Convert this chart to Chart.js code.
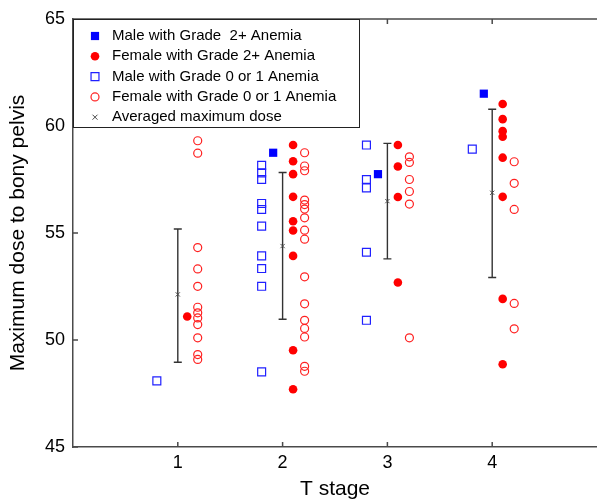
<!DOCTYPE html>
<html>
<head>
<meta charset="utf-8">
<script src="https://cdn.jsdelivr.net/npm/chart.js@4"></script>
<style>
  html, body { margin: 0; padding: 0; background: #fff; }
</style>
</head>
<body>
<canvas id="chart" width="597" height="500"></canvas>
<script>
// patients per group, [T stage position, max dose]
const maleSevere = [[1.91, 58.75], [2.91, 57.75], [3.92, 61.51]]

const femaleSevere = [
  [1.09, 51.10],
  [2.10, 59.11], [2.10, 58.35], [2.10, 57.75], [2.10, 56.69], [2.10, 55.55],
  [2.10, 55.12], [2.10, 53.93], [2.10, 49.52], [2.10, 47.70],
  [3.10, 59.11], [3.10, 58.11], [3.10, 56.68], [3.10, 52.69],
  [4.10, 61.03], [4.10, 60.32], [4.10, 59.76], [4.10, 59.50], [4.10, 58.52],
  [4.10, 56.69], [4.10, 51.92], [4.10, 48.87]
]

const maleMild = [
  [0.80, 48.09],
  [1.80, 58.16], [1.80, 57.81], [1.80, 57.50], [1.80, 56.38], [1.80, 56.10],
  [1.80, 55.32], [1.80, 53.93], [1.80, 53.34], [1.80, 52.51], [1.80, 48.51],
  [2.80, 59.11], [2.80, 57.50], [2.80, 57.11], [2.80, 54.10], [2.80, 50.92],
  [3.81, 58.92]
]

const femaleMild = [
  [1.19, 59.31], [1.19, 58.73], [1.19, 54.32], [1.19, 53.32], [1.19, 52.51],
  [1.19, 51.53], [1.19, 51.27], [1.19, 51.03], [1.19, 50.72], [1.19, 50.10],
  [1.19, 49.32], [1.19, 49.09],
  [2.21, 58.75], [2.21, 58.13], [2.21, 57.91], [2.21, 56.54], [2.21, 56.33],
  [2.21, 56.12], [2.21, 55.71], [2.21, 55.13], [2.21, 54.71], [2.21, 52.95],
  [2.21, 51.69], [2.21, 50.92], [2.21, 50.54], [2.21, 50.14], [2.21, 48.77],
  [2.21, 48.54],
  [3.21, 58.56], [3.21, 58.30], [3.21, 57.50], [3.21, 56.94], [3.21, 56.35],
  [3.21, 50.10],
  [4.21, 58.33], [4.21, 57.32], [4.21, 56.10], [4.21, 51.71], [4.21, 50.52]
]

// average and spread per T stage
const stages = [1, 2, 3, 4]
const meanDose = [52.13, 54.39, 56.49, 56.88]
const doseLow = [48.96, 50.97, 53.79, 52.92]
const doseHigh = [55.19, 57.83, 59.19, 60.78]

const stageTicks = [1, 2, 3, 4]
const doseTicks = [45, 50, 55, 60, 65]

const BLUE = '#0000ff'
const RED = '#ff0000'
const AXIS = '#4a4a4a'
const FONT = '"Liberation Sans", Arial, sans-serif'

toPoints = list => list.map(p => ({ x: p[0], y: p[1] }))

const datasets = [
  {
    label: 'Male with Grade  2+ Anemia',
    data: toPoints(maleSevere),
    pointStyle: 'rect', pointRadius: 5.8,
    backgroundColor: BLUE, borderColor: BLUE, borderWidth: 0
  },
  {
    label: 'Female with Grade 2+ Anemia',
    data: toPoints(femaleSevere),
    pointStyle: 'circle', pointRadius: 4.3,
    backgroundColor: RED, borderColor: RED, borderWidth: 0
  },
  {
    label: 'Male with Grade 0 or 1 Anemia',
    data: toPoints(maleMild),
    pointStyle: 'rect', pointRadius: 5.6,
    backgroundColor: 'rgba(0,0,0,0)', borderColor: '#2020ff', borderWidth: 1.2
  },
  {
    label: 'Female with Grade 0 or 1 Anemia',
    data: toPoints(femaleMild),
    pointStyle: 'circle', pointRadius: 4,
    backgroundColor: 'rgba(0,0,0,0)', borderColor: '#ff2020', borderWidth: 1.2
  },
  {
    label: 'Averaged maximum dose',
    data: stages.map((s, i) => ({ x: s, y: meanDose[i] })),
    pointStyle: 'crossRot', pointRadius: 3,
    backgroundColor: AXIS, borderColor: AXIS, borderWidth: 1
  }
]

// vertical bars from doseLow to doseHigh with caps
const errorBars = {
  id: 'errorBars',
  beforeDatasetsDraw(chart) {
    const ctx = chart.ctx
    const xs = chart.scales.x, ys = chart.scales.y
    ctx.save()
    ctx.strokeStyle = '#333'
    ctx.lineWidth = 1.4
    stages.forEach((s, i) => {
      const x = xs.getPixelForValue(s)
      const y1 = ys.getPixelForValue(doseLow[i])
      const y2 = ys.getPixelForValue(doseHigh[i])
      ctx.beginPath()
      ctx.moveTo(x, y1); ctx.lineTo(x, y2)
      ctx.moveTo(x - 4, y1); ctx.lineTo(x + 4, y1)
      ctx.moveTo(x - 4, y2); ctx.lineTo(x + 4, y2)
      ctx.stroke()
    })
    ctx.restore()
  }
}

function drawMarker(ctx, ds, x, y) {
  ctx.save()
  ctx.fillStyle = ds.backgroundColor
  ctx.strokeStyle = ds.borderColor
  ctx.lineWidth = ds.borderWidth || 1
  const r = ds.pointRadius
  ctx.beginPath()
  if (ds.pointStyle === 'rect') {
    const h = Math.SQRT1_2 * r
    ctx.rect(x - h, y - h, 2 * h, 2 * h)
  } else if (ds.pointStyle === 'circle') {
    ctx.arc(x, y, r, 0, Math.PI * 2)
  } else {
    ctx.moveTo(x - r, y - r); ctx.lineTo(x + r, y + r)
    ctx.moveTo(x - r, y + r); ctx.lineTo(x + r, y - r)
  }
  ctx.fill()
  if (ds.borderWidth) ctx.stroke()
  ctx.restore()
}

// top border, inward ticks and the boxed legend
const frame = {
  id: 'frame',
  afterDraw(chart) {
    const ctx = chart.ctx
    const area = chart.chartArea
    const xs = chart.scales.x, ys = chart.scales.y
    ctx.save()
    ctx.strokeStyle = AXIS
    ctx.lineWidth = 1.5
    ctx.beginPath()
    ctx.moveTo(area.left, area.top); ctx.lineTo(area.right, area.top)
    stageTicks.forEach(t => {
      const x = xs.getPixelForValue(t)
      ctx.moveTo(x, area.bottom); ctx.lineTo(x, area.bottom - 5)
      ctx.moveTo(x, area.top); ctx.lineTo(x, area.top + 5)
    })
    doseTicks.forEach(t => {
      const y = ys.getPixelForValue(t)
      ctx.moveTo(area.left, y); ctx.lineTo(area.left + 5, y)
    })
    ctx.stroke()

    const box = { left: area.left, top: area.top, right: 359, bottom: 127 }
    ctx.fillStyle = '#fff'
    ctx.fillRect(box.left, box.top, box.right - box.left, box.bottom - box.top)
    ctx.strokeStyle = '#222'
    ctx.lineWidth = 1
    ctx.strokeRect(box.left + 0.5, box.top + 0.5, box.right - box.left, box.bottom - box.top)

    ctx.font = '15px ' + FONT
    ctx.textBaseline = 'middle'
    ctx.textAlign = 'left'
    chart.data.datasets.forEach((ds, i) => {
      const y = 36 + i * 20.3
      const legendDs = Object.assign({}, ds)
      if (ds.pointStyle === 'crossRot') legendDs.pointRadius = 2.5
      drawMarker(ctx, legendDs, 95, y)
      ctx.fillStyle = '#000'
      ctx.fillText(ds.label, 112, y)
    })
    ctx.restore()
  }
}

const chart = new Chart(document.getElementById('chart'), {
  type: 'scatter',
  data: { datasets: datasets },
  options: {
    responsive: false,
    animation: false,
    layout: { autoPadding: false, padding: { top: 19, right: 0, bottom: 0, left: 0 } },
    plugins: { legend: { display: false }, tooltip: { enabled: false } },
    scales: {
      x: {
        type: 'linear', min: 0, max: 5,
        afterFit: scale => { scale.height = 53; scale.paddingRight = 0 },
        afterBuildTicks: scale => { scale.ticks = stageTicks.map(v => ({ value: v })) },
        ticks: {
          color: '#000', font: { family: FONT, size: 18 }, padding: 5
        },
        grid: { display: false, drawTicks: false },
        border: { display: true, color: AXIS, width: 1.5 },
        title: {
          display: true, text: 'T stage', color: '#000',
          font: { family: FONT, size: 21, lineHeight: 1 }, padding: { top: 0, bottom: 0 }
        }
      },
      y: {
        min: 45, max: 65,
        afterFit: scale => { scale.width = 73 },
        afterBuildTicks: scale => { scale.ticks = doseTicks.map(v => ({ value: v })) },
        ticks: { color: '#000', font: { family: FONT, size: 18 }, padding: 8 },
        grid: { display: false, drawTicks: false },
        border: { display: true, color: AXIS, width: 1.5 },
        title: {
          display: true, text: 'Maximum dose to bony pelvis', color: '#000',
          font: { family: FONT, size: 21, lineHeight: 1 }, padding: { top: 8, bottom: 0 }
        }
      }
    }
  },
  plugins: [errorBars, frame]
})
</script>
</body>
</html>
